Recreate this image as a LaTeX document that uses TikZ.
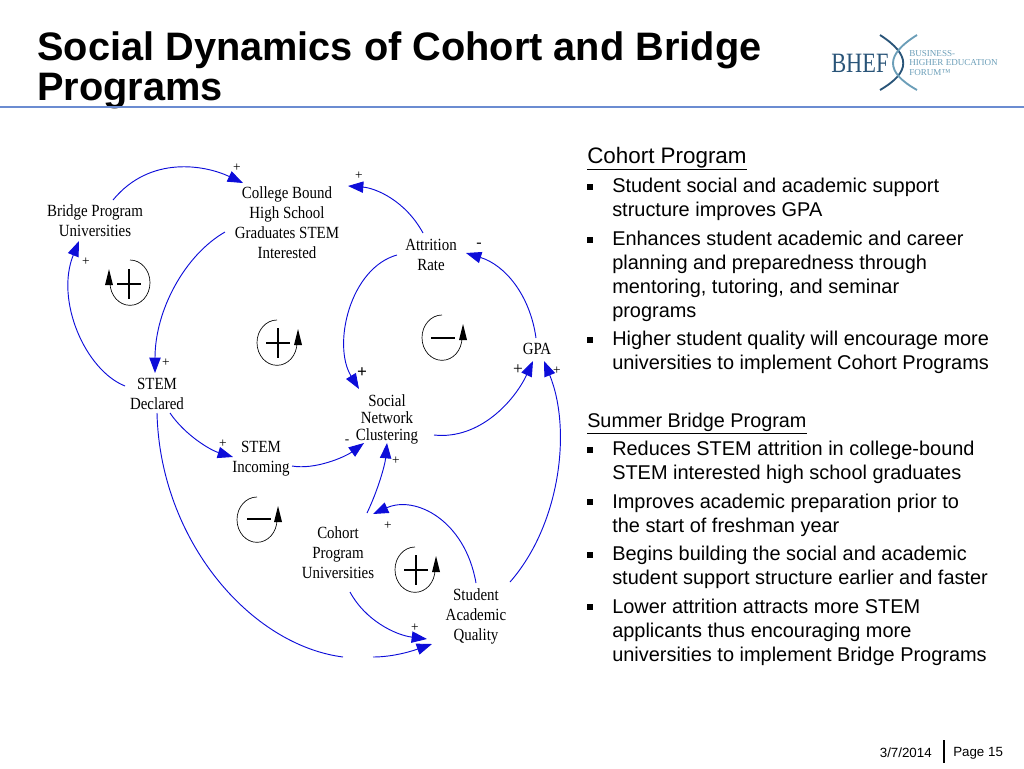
\documentclass[tikz,border=0pt]{standalone}
\usepackage{fontspec}
\setmainfont{Liberation Sans}
\newfontfamily\diagfont[FakeStretch=0.875]{Liberation Serif}
\newfontfamily\signfont{Liberation Serif}
\newfontfamily\logofont[FakeStretch=0.8]{Liberation Serif}
\usetikzlibrary{arrows.meta}
\definecolor{mblue}{rgb}{0.05, 0.05, 0.85}
\definecolor{mrule}{rgb}{0.42, 0.55, 0.82}
\definecolor{mlogo}{rgb}{0.16, 0.33, 0.47}
\definecolor{mlogolight}{rgb}{0.42, 0.62, 0.72}

\tikzset{
  var/.style={font=\diagfont\fontsize{12.8}{15}\selectfont, align=center, inner sep=0pt},
  sign/.style={font=\signfont\fontsize{10}{12}\selectfont, inner sep=0pt, yshift=-1.5pt},
  bigsign/.style={font=\signfont\bfseries\fontsize{13}{13}\selectfont, inner sep=0pt, yshift=-1.5pt},
  link/.style={draw=mblue, line width=0.7pt, -{Triangle[length=11.5pt,width=8.5pt,fill=mblue]}},
  plainlink/.style={draw=mblue, line width=0.7pt},
  bul/.style={fill=black, inner sep=0pt, minimum size=4.6pt},
  bultext/.style={anchor=west, align=left, inner sep=0pt, font=\fontsize{14.95}{18}\selectfont},
  head/.style={anchor=base west, inner sep=0pt},
  ringr/.pic={
    \draw [line width=0.5pt] (1, -23) arc [start angle=90, end angle=-180, x radius=15pt, y radius=17pt];
    \fill (-20, 2) -- (-24, 2) -- (-20, -14) -- (-16, 2) -- cycle;
  },
  ringl/.pic={
    \draw [line width=0.5pt] (-1, -23) arc [start angle=90, end angle=360, x radius=15pt, y radius=17pt];
    \fill (20, 2) -- (16, 2) -- (20, -14) -- (24, 2) -- cycle;
  },
  plusbar/.pic={
    \draw [line width=1.2pt] (-12, 0) -- (12, 0) (0, -15) -- (0, 15);
  },
  minusbar/.pic={
    \draw [line width=1.2pt] (-12, 0) -- (12, 0);
  }
}

\begin{document}
\begin{tikzpicture}[x=0.75pt, y=-0.75pt]
  \useasboundingbox (0, 0) rectangle (1024, 768);

  % title and header
  \node [anchor=base west, inner sep=0pt, font=\bfseries\fontsize{29.8}{30}\selectfont] (title1) at (37, 60) {Social Dynamics of Cohort and Bridge};
  \node [anchor=base west, inner sep=0pt, font=\bfseries\fontsize{29.8}{30}\selectfont] (title2) at (37, 100) {Programs};
  \draw [mrule, line width=0.8pt] (0, 107) -- (1024, 107);

  % logo
  \node [anchor=base west, inner sep=0pt, text=mlogo, font=\logofont\fontsize{21}{21}\selectfont] (logoa) at (831, 72) {BHEF};
  \node [anchor=west, align=left, inner sep=0pt, text=mlogolight, font=\signfont\fontsize{6.8}{7.1}\selectfont] (logob) at (909, 63) {BUSINESS-\\HIGHER EDUCATION\\FORUM\texttrademark};
  \draw [mlogo, line width=1.4pt] (880, 35) .. controls (911, 55) and (911, 72) .. (880, 90);
  \draw [mlogolight, line width=1.4pt] (917, 35) .. controls (885, 55) and (885, 72) .. (917, 90);

  % variables
  \node [var] (bridge) at (95, 221) {Bridge Program\\Universities};
  \node [var] (college) at (287, 223) {College Bound\\High School\\Graduates STEM\\Interested};
  \node [var] (attrition) at (431, 255) {Attrition\\Rate};
  \node [var] (gpa) at (537, 349) {GPA};
  \node [var] (declared) at (157, 394) {STEM\\Declared};
  \node [var, font=\diagfont\fontsize{12.8}{12.8}\selectfont] (social) at (387, 419) {Social\\Network\\Clustering};
  \node [var] (incoming) at (261, 459) {STEM\\Incoming};
  \node [var] (cohort) at (338, 553) {Cohort\\Program\\Universities};
  \node [var] (student) at (476, 616) {Student\\Academic\\Quality};

  % links
  \draw [link] ([shift={(18, -21)}]bridge.center) .. controls +(37, -45) and +(-38, -18) .. ([shift={(-44, -40)}]college.center);
  \draw [link] ([shift={(-62, 9)}]college.center) .. controls +(-40, 23) and +(0, -63) .. ([shift={(-2, -21)}]declared.center);
  \draw [link] ([shift={(-32, -8)}]declared.center) .. controls +(-40, -16) and +(-24, 59) .. ([shift={(-16, 20)}]bridge.center);
  \draw [link] ([shift={(-8, -22)}]attrition.center) .. controls +(-18, -33) and +(27, 2) .. ([shift={(61, -37)}]college.center);
  \draw [link] ([shift={(-34, 0)}]attrition.center) .. controls +(-47, 13) and +(-27, -44) .. ([shift={(-28, -30)}]social.center);
  \draw [link] ([shift={(-1, -11)}]gpa.center) .. controls +(-6, -43) and +(39, 12) .. ([shift={(35, -2)}]attrition.center);
  \draw [link] ([shift={(47, 16)}]social.center) .. controls +(46, 5) and +(-18, 39) .. ([shift={(-4, 12)}]gpa.center);
  \draw [link] ([shift={(34, -34)}]student.center) .. controls +(50, -57) and +(28, 69) .. ([shift={(7, 12)}]gpa.center);
  \draw [link] ([shift={(31, 7)}]incoming.center) .. controls +(23, 4) and +(-19, 14) .. ([shift={(-23, 24)}]social.center);
  \draw [link] ([shift={(13, 19)}]declared.center) .. controls +(15, 22) and +(-23, -7) .. ([shift={(-28, -2)}]incoming.center);
  \draw [link] ([shift={(29, -40)}]cohort.center) .. controls +(11, -23) and +(-2, 22) .. ([shift={(0, 24)}]social.center);
  \draw [link] ([shift={(0, -33)}]student.center) .. controls +(-11, -63) and +(42, -19) .. ([shift={(35, -39)}]cohort.center);
  \draw [link] ([shift={(12, 39)}]cohort.center) .. controls +(15, 28) and +(-32, -4) .. ([shift={(-49, 23)}]student.center);
  \coordinate (gapa) at (343, 657);
  \coordinate (gapb) at (373, 657);
  \draw [plainlink] ([shift={(0, 19)}]declared.center) .. controls +(3, 127) and +(-93, -12) .. (gapa);
  \draw [link] (gapb) .. controls +(22, 0) and +(-17, 6) .. ([shift={(-44, 28)}]student.center);

  % signs
  \node [sign] (s1) at (237, 166) {+};
  \node [sign] (s2) at (359, 174) {+};
  \node [sign] (s3) at (86, 260) {+};
  \node [sign] (s4) at (166, 361) {+};
  \node [sign, font=\signfont\fontsize{12}{12}\selectfont] (s5) at (479, 243) {-};
  \node [bigsign] (s6) at (362, 371) {+};
  \node [bigsign, font=\signfont\fontsize{13}{13}\selectfont] (s7) at (518, 368) {+};
  \node [sign] (s8) at (557, 369) {+};
  \node [sign] (s9) at (347, 440) {-};
  \node [sign] (s10) at (223, 442) {+};
  \node [sign] (s11) at (396, 459) {+};
  \node [sign] (s12) at (388, 524) {+};
  \node [sign] (s13) at (415, 626) {+};

  % loop marks
  \pic at (129, 283) {ringr};
  \pic at (129, 284) {plusbar};
  \pic at (278, 343) {ringl};
  \pic at (278, 343) {plusbar};
  \pic at (443, 338) {ringl};
  \pic at (443, 338) {minusbar};
  \pic at (258, 520) {ringl};
  \pic at (259, 519) {minusbar};
  \pic at (416, 570) {ringl};
  \pic at (416, 570) {plusbar};

  % right column
  \node [head, font=\fontsize{16.8}{18}\selectfont] (cohorthead) at (587, 163) {\underline{Cohort Program}};
  \node [bul] (b1) at (590, 187) {};
  \node [bultext] (t1) at (612, 199) {Student social and academic support\\structure improves GPA};
  \node [bul] (b2) at (590, 240) {};
  \node [bultext] (t2) at (612, 276) {Enhances student academic and career\\planning and preparedness through\\mentoring, tutoring, and seminar\\programs};
  \node [bul] (b3) at (590, 340) {};
  \node [bultext] (t3) at (612, 352) {Higher student quality will encourage more\\universities to implement Cohort Programs};
  \node [head, font=\fontsize{14.87}{18}\selectfont] (bridgehead) at (587, 427) {\underline{Summer Bridge Program}};
  \node [bul] (b4) at (590, 450) {};
  \node [bultext] (t4) at (612, 462) {Reduces STEM attrition in college-bound\\STEM interested high school graduates};
  \node [bul] (b5) at (590, 502) {};
  \node [bultext] (t5) at (612, 515) {Improves academic preparation prior to\\the start of freshman year};
  \node [bul] (b6) at (590, 555) {};
  \node [bultext] (t6) at (612, 567) {Begins building the social and academic\\student support structure earlier and faster};
  \node [bul] (b7) at (590, 607) {};
  \node [bultext] (t7) at (612, 632) {Lower attrition attracts more STEM\\applicants thus encouraging more\\universities to implement Bridge Programs};

  % footer
  \node [anchor=east, inner sep=0pt, font=\fontsize{10}{12}\selectfont] (datefoot) at (932, 753) {3/7/2014};
  \node [anchor=west, inner sep=0pt, font=\fontsize{10}{12}\selectfont] (pagefoot) at (953, 753) {Page 15};
  \draw [line width=0.9pt] (944, 740) -- (944, 763);
\end{tikzpicture}
\end{document}
